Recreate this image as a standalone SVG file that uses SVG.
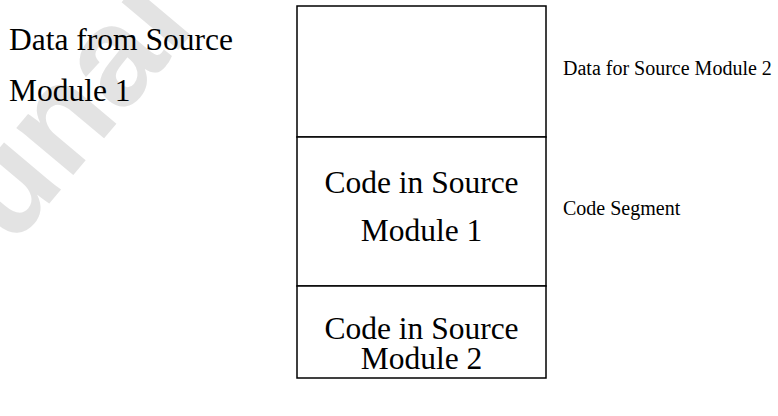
<svg xmlns="http://www.w3.org/2000/svg" width="778" height="416" viewBox="0 0 778 416">
  <style>
    .big { font-family: "Liberation Serif", "Times New Roman", serif; font-size: 31.5px; fill: #000; }
    .small { font-family: "Liberation Serif", "Times New Roman", serif; font-size: 20px; fill: #000; }
    .mid { text-anchor: middle; }
    .seg { fill: #fff; stroke: #000; stroke-width: 1.5; }
    .mark { font-family: "Liberation Sans", Arial, sans-serif; font-weight: bold; font-size: 140px; fill: #e3e3e3; }
  </style>
  <rect width="778" height="416" fill="#fff"/>

  <!-- faint background stamp -->
  <text class="mark" transform="translate(12,248) rotate(-50)">unai</text>

  <!-- left label -->
  <g id="label-data-from">
    <text class="big" x="9" y="50">Data from Source</text>
    <text class="big" x="9" y="101">Module 1</text>
  </g>

  <!-- memory segments -->
  <g id="seg-data">
    <rect class="seg" x="297" y="6" width="249" height="131"/>
  </g>
  <g id="seg-code1">
    <rect class="seg" x="297" y="137" width="249" height="149"/>
    <text class="big mid" x="421.5" y="193">Code in Source</text>
    <text class="big mid" x="421.5" y="241">Module 1</text>
  </g>
  <g id="seg-code2">
    <rect class="seg" x="297" y="286" width="249" height="92"/>
    <text class="big mid" x="421.5" y="339">Code in Source</text>
    <text class="big mid" x="421.5" y="369">Module 2</text>
  </g>

  <!-- right labels -->
  <g id="label-data-for">
    <text class="small" x="563" y="75">Data for Source Module 2</text>
  </g>
  <g id="label-code-seg">
    <text class="small" x="563" y="215">Code Segment</text>
  </g>

  <g id="connectors"></g>
</svg>
